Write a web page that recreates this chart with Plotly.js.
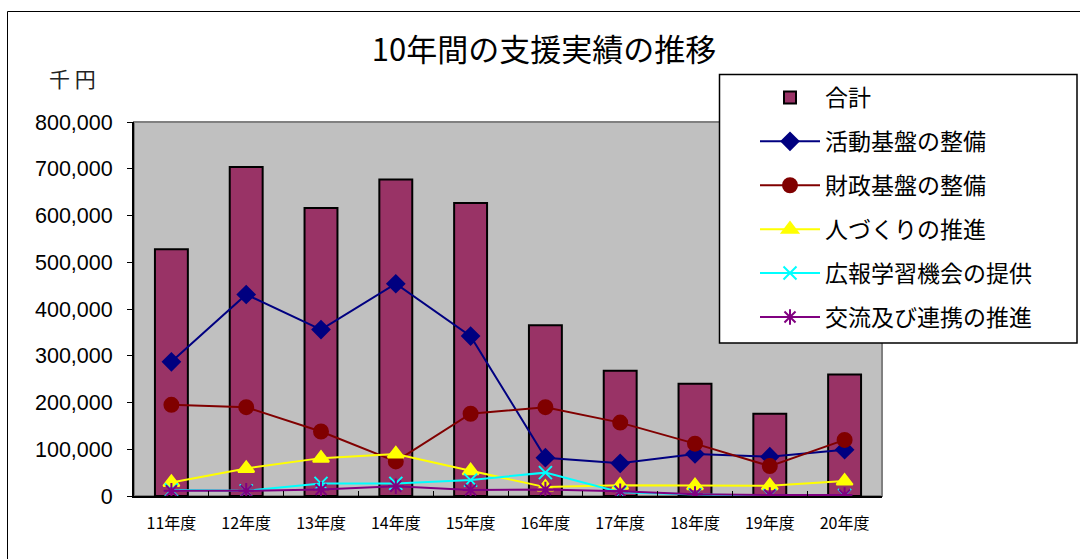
<!DOCTYPE html>
<html>
<head>
<meta charset="utf-8">
<script src="https://cdn.plot.ly/plotly-3.0.1.min.js"></script>
<style>
html,body{margin:0;padding:0;background:#fff;}
#chart{width:1080px;height:559px;}
</style>
</head>
<body>
<div id="chart"></div>
<script>
// ---- data (千円) ----
const categories = ['11年度','12年度','13年度','14年度','15年度','16年度','17年度','18年度','19年度','20年度'];
const total      = [528000, 704000, 616000, 677000, 627000, 365000, 268000, 240000, 176000, 260000];
const katsudo    = [287000, 431000, 356000, 454000, 342000,  82000,  70000,  90000,  84000,  99000];
const zaisei     = [195000, 190000, 138000,  74000, 176000, 190000, 157000, 112000,  64000, 120000];
const hitozukuri = [ 29000,  59000,  81000,  90000,  54000,  19000,  23000,  22000,  22000,  32000];
const kouhou     = [ 13000,  11000,  27000,  27000,  34000,  50000,   8000,   3000,   1000,   1000];
const kouryu     = [ 11000,  11000,  14000,  21000,  13000,  14000,  10000,   4000,   2000,   2000];
const seriesNames = ['合計','活動基盤の整備','財政基盤の整備','人づくりの推進','広報学習機会の提供','交流及び連携の推進'];
const yTicks = [0,100000,200000,300000,400000,500000,600000,700000,800000];

const JP = '"Noto Sans CJK JP", "Noto Sans", sans-serif';

// plot area in px: left 134, right 882, top 122, bottom 496
const L = 134, R = 882, T = 122, B = 496, W = 1080, H = 559;
const px2x = p => (p - L) / (R - L);
const px2y = p => (B - p) / (B - T);

function lineTrace(name, y, color, symbol, size, grp) {
  return {
    type: 'scatter', mode: 'lines+markers', name: name, x: categories, y: y,
    legendgroup: grp,
    line: {color: color, width: 2},
    marker: {symbol: symbol, size: size, color: color, line: {color: color, width: 2}}
  };
}

const traces = [
  {type: 'bar', name: seriesNames[0], x: categories, y: total, width: 0.44, legendgroup: 'g0',
   marker: {color: '#993366', line: {color: '#000000', width: 2}}},
  lineTrace(seriesNames[1], katsudo, '#000080', 'diamond', 13, 'g1'),
  lineTrace(seriesNames[2], zaisei, '#800000', 'circle', 14, 'g2'),
  lineTrace(seriesNames[3], hitozukuri, '#FFFF00', 'triangle-up', 14, 'g3'),
  lineTrace(seriesNames[4], kouhou, '#00FFFF', 'x-thin-open', 13, 'g4'),
  lineTrace(seriesNames[5], kouryu, '#800080', 'asterisk-open', 13, 'g5')
];

const layout = {
  width: W, height: H,
  margin: {l: L, r: W - R, t: T, b: H - B, pad: 0},
  paper_bgcolor: '#ffffff',
  plot_bgcolor: '#C0C0C0',
  font: {family: JP, color: '#000000'},
  showlegend: true,
  title: {
    text: '10年間の支援実績の推移',
    font: {family: JP, size: 31, color: '#000000'},
    x: 544 / W, xref: 'container', xanchor: 'center',
    y: 1 - 50 / H, yref: 'container', yanchor: 'middle'
  },
  xaxis: {
    type: 'category', range: [-0.5, 9.5], autorange: false,
    showgrid: false, zeroline: false,
    showline: true, linecolor: '#000000', linewidth: 2,
    ticks: 'inside', tickson: 'boundaries', ticklen: 5, tickcolor: '#000000', tickwidth: 1,
    tickfont: {family: JP, size: 16, color: '#000000'},
    ticklabelstandoff: 12,
    fixedrange: true
  },
  yaxis: {
    range: [0, 800000], autorange: false,
    tickvals: yTicks, tickformat: ',d',
    showgrid: false, zeroline: false,
    showline: true, linecolor: '#000000', linewidth: 2,
    ticks: 'outside', ticklen: 5, tickcolor: '#000000', tickwidth: 1,
    tickfont: {family: '"Liberation Sans", Arial, sans-serif', size: 21.5, color: '#000000'},
    ticklabelstandoff: 10,
    fixedrange: true
  },
  legend: {
    x: px2x(755), xanchor: 'left',
    y: px2y(76), yanchor: 'top',
    bgcolor: 'rgba(0,0,0,0)', borderwidth: 0,
    font: {family: JP, size: 23, color: '#000000'},
    traceorder: 'grouped', tracegroupgap: 11,
    itemwidth: 60
  },
  shapes: [
    // outer chart frame
    {type: 'rect', xref: 'paper', yref: 'paper', x0: px2x(7.5), x1: px2x(1090), y0: px2y(11.5), y1: px2y(575),
     line: {color: '#000000', width: 1}, fillcolor: 'rgba(0,0,0,0)', layer: 'below'},
    // plot area border (gray top/right)
    {type: 'rect', xref: 'paper', yref: 'paper', x0: 0, x1: 1, y0: 0, y1: 1,
     line: {color: '#808080', width: 2}, fillcolor: 'rgba(0,0,0,0)', layer: 'below'},
    // legend box
    {type: 'rect', xref: 'paper', yref: 'paper', x0: px2x(719.5), x1: px2x(1077), y0: px2y(343), y1: px2y(74.5),
     line: {color: '#000000', width: 1.5}, fillcolor: '#ffffff', layer: 'above'}
  ],
  annotations: [
    {text: '千 円', xref: 'paper', yref: 'paper', x: px2x(72), y: px2y(78), xanchor: 'center', yanchor: 'middle',
     showarrow: false, font: {family: JP, size: 21, color: '#222222'}}
  ]
};

Plotly.newPlot('chart', traces, layout, {displayModeBar: false, staticPlot: true});
</script>
</body>
</html>
